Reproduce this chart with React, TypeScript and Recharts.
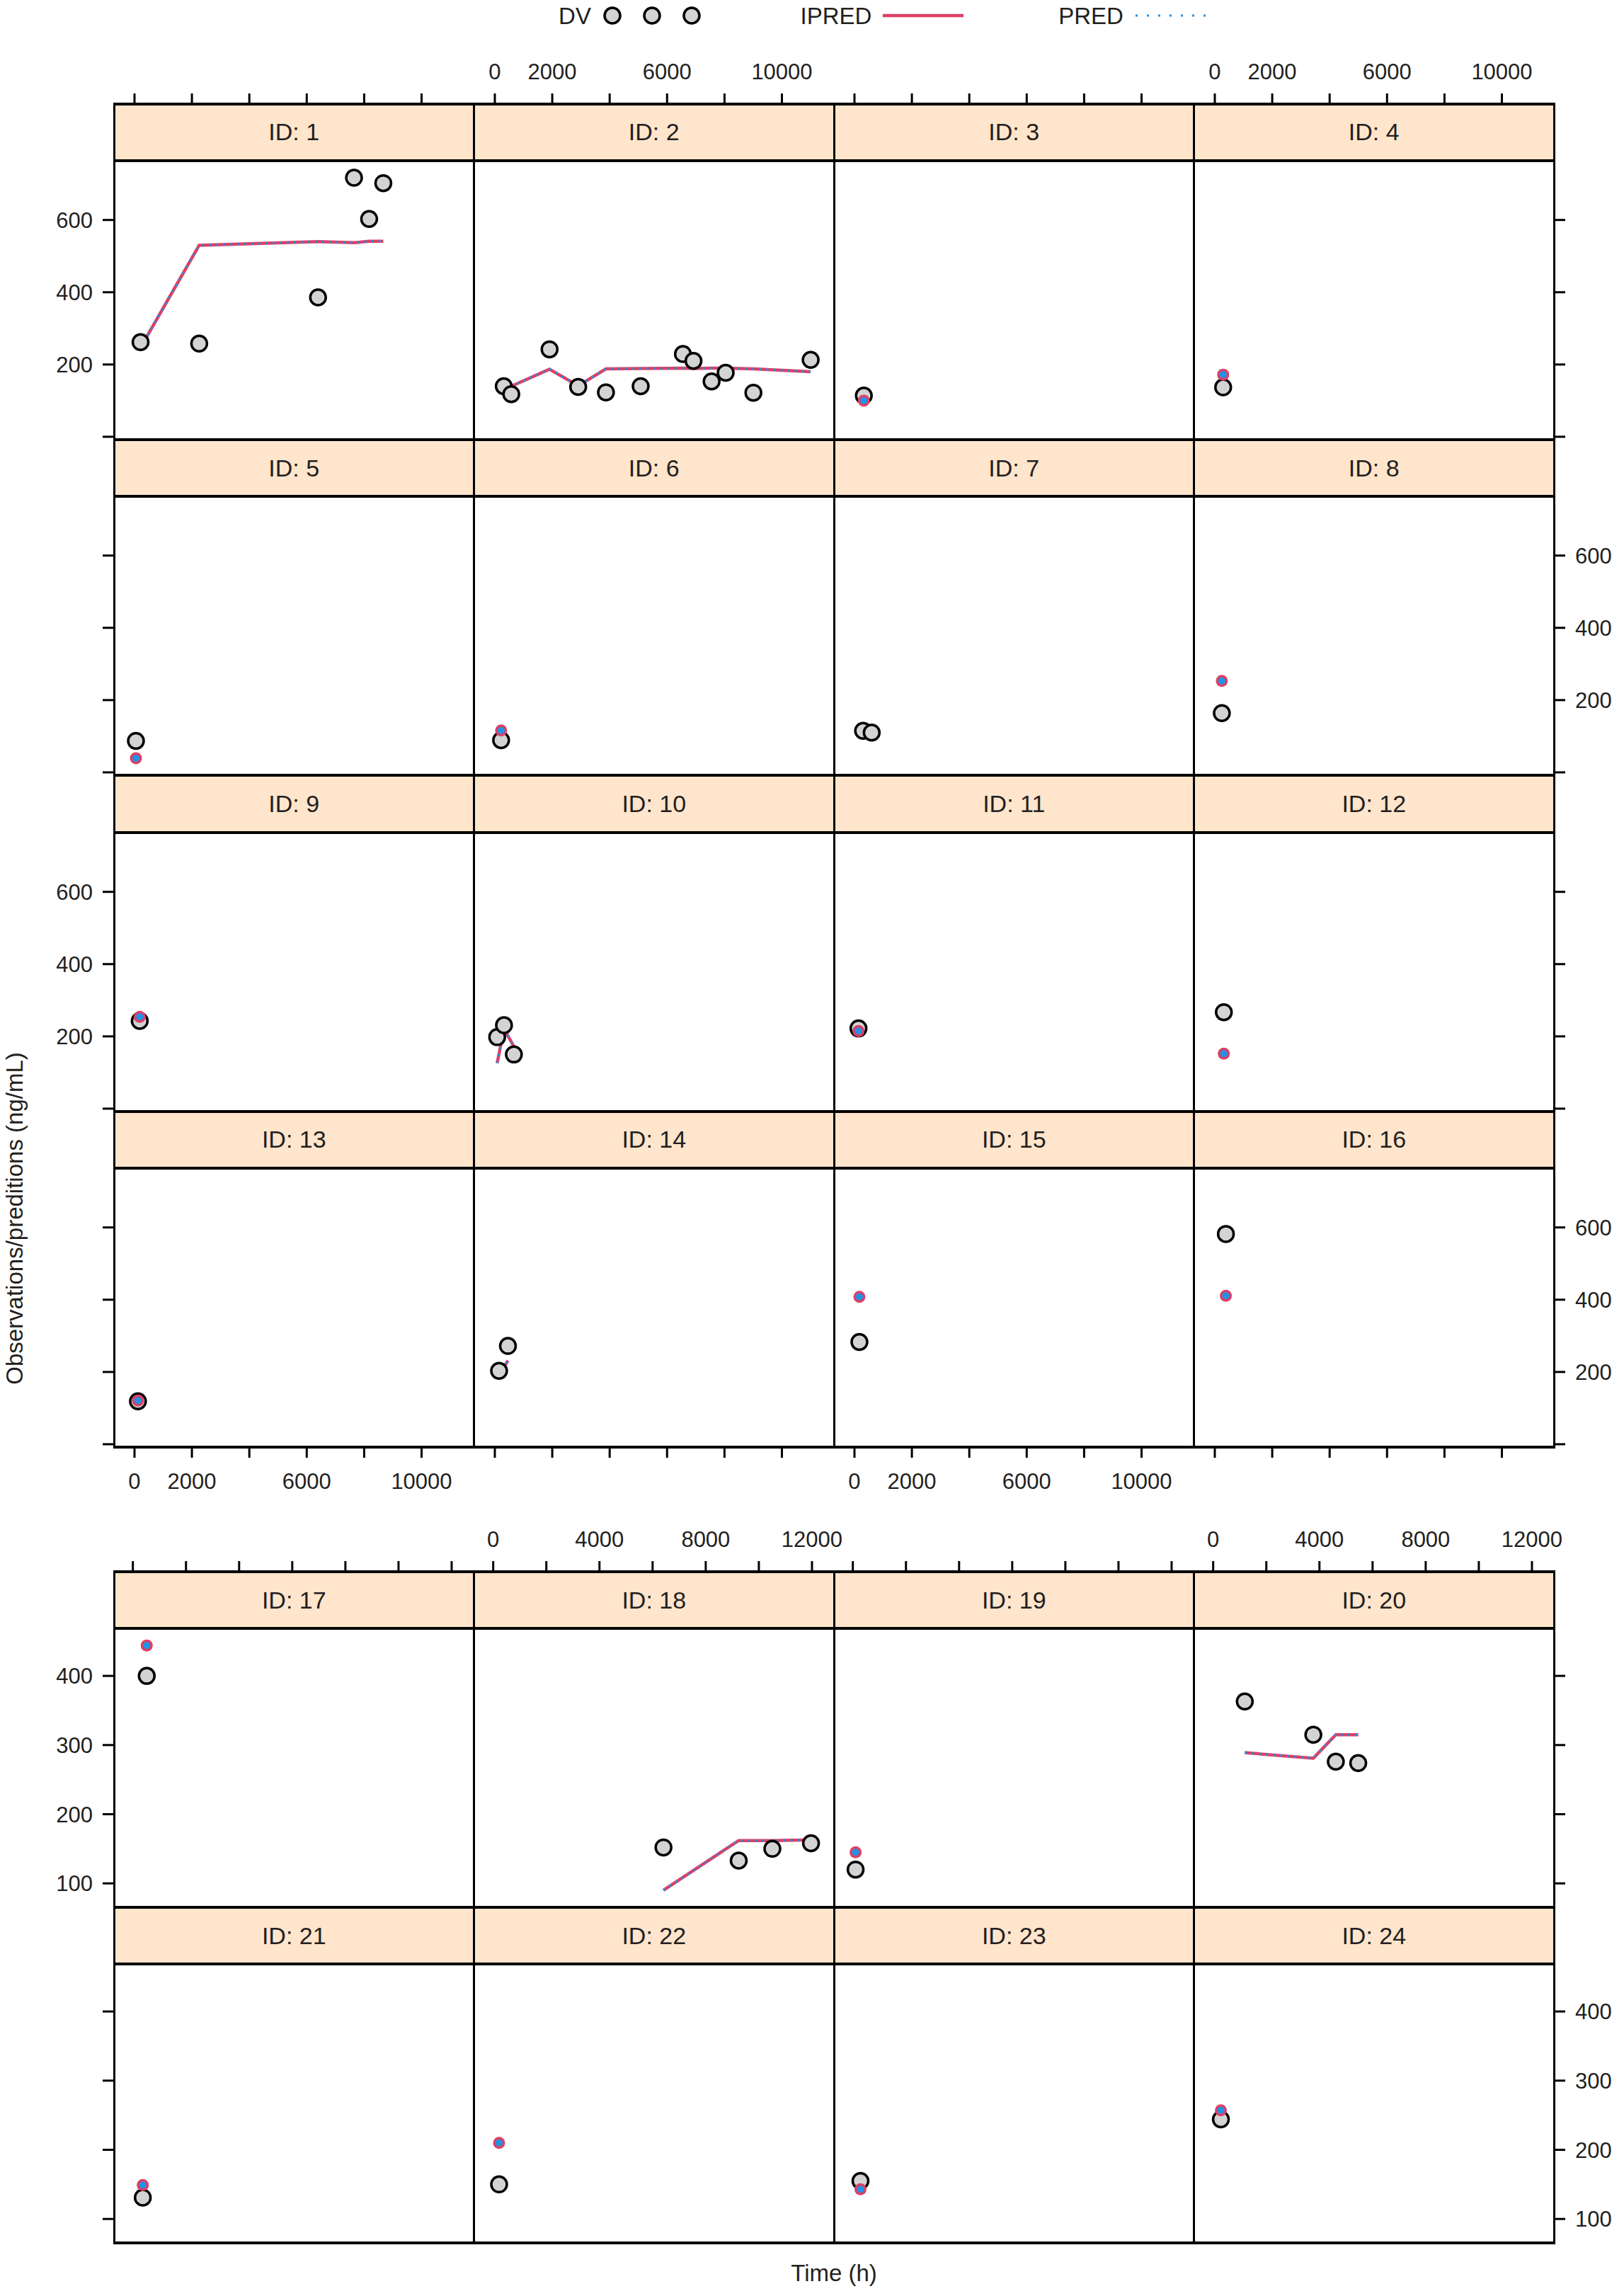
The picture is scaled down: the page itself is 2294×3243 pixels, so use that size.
import { ComposedChart, Line, Scatter, XAxis, YAxis } from 'recharts'

// one entry per subject, predictions taken at the observation times
const SUBJECT_IDS = [1, 2, 3, 4, 5, 6, 7, 8, 9, 10, 11, 12, 13, 14, 15, 16, 17, 18, 19, 20, 21, 22, 23, 24]

const TIME_H: number[][] = [
  [211, 2253, 6393, 7646, 8173, 8667],
  [311, 572, 1906, 2903, 3870, 5080, 6552, 6920, 7551, 8041, 9006, 11002],
  [326],
  [290],
  [50],
  [218],
  [300, 600],
  [245],
  [182],
  [81, 319, 663],
  [140],
  [314],
  [120],
  [147, 456],
  [172],
  [385],
  [522],
  [6409, 9242, 10508, 11963],
  [104],
  [1190, 3770, 4617, 5460],
  [373],
  [221],
  [288],
  [290],
]

const DV_OBS: number[][] = [
  [262, 258, 386, 717, 603, 702],
  [140, 118, 242, 138, 123, 140, 229, 210, 153, 177, 122, 213],
  [114],
  [137],
  [87],
  [89],
  [115, 110],
  [164],
  [243],
  [198, 231, 150],
  [222],
  [267],
  [119],
  [203, 272],
  [283],
  [582],
  [400],
  [152, 133, 150, 158],
  [120],
  [363, 315, 276, 274],
  [131],
  [150],
  [155],
  [244],
]

const IPRED_VAL: number[][] = [
  [247, 530, 540, 537, 541, 541],
  [131, 140, 187, 141, 188, 189, 190, 189, 190, 190, 188, 180],
  [100],
  [172],
  [39],
  [116],
  [114, 110],
  [253],
  [254],
  [126, 221, 172],
  [215],
  [152],
  [121],
  [190, 232],
  [408],
  [411],
  [444],
  [90, 162, 162, 163],
  [145],
  [289, 281, 315, 315],
  [149],
  [210],
  [143],
  [257],
]

const PRED_VAL: number[][] = [
  [247, 530, 540, 537, 541, 541],
  [131, 140, 187, 141, 188, 189, 190, 189, 190, 190, 188, 180],
  [100],
  [172],
  [39],
  [116],
  [114, 110],
  [253],
  [254],
  [126, 221, 172],
  [215],
  [152],
  [121],
  [190, 232],
  [408],
  [411],
  [444],
  [90, 162, 162, 163],
  [145],
  [289, 281, 315, 315],
  [149],
  [210],
  [143],
  [257],
]

const PAGE1_X_TICKS = [0, 2000, 4000, 6000, 8000, 10000]
const PAGE1_X_LABELS = [0, 2000, 6000, 10000]
const PAGE2_X_TICKS = [0, 2000, 4000, 6000, 8000, 10000, 12000]
const PAGE2_X_LABELS = [0, 4000, 8000, 12000]
const PAGE1_Y_TICKS = [0, 200, 400, 600]
const PAGE1_Y_LABELS = [200, 400, 600]
const PAGE2_Y_TICKS = [100, 200, 300, 400]
const PAGE2_Y_LABELS = [100, 200, 300, 400]

const FONT = '"Liberation Sans", Arial, sans-serif'
const INK = '#231f20'
const RED = '#de3f64'
const BLUE = '#1f93e6'
const STRIP_BG = '#ffe5cc'

const LEFT = 161
const COL_W = 508.5
const STRIP_H = 80.3
const PANEL_H = 394
const NCOL = 4
const PAD = 60

interface Page {
  first: number
  count: number
  rows: number
  top: number
  pitch: number
  xDomain: [number, number]
  yDomain: [number, number]
  xTicks: number[]
  xLabels: number[]
  yTicks: number[]
  yLabels: number[]
  bottomAxis: boolean
}

const PAGES: Page[] = [
  {
    first: 0, count: 16, rows: 4, top: 146.7, pitch: 474.3,
    xDomain: [-715, 11825], yDomain: [-8, 764],
    xTicks: PAGE1_X_TICKS, xLabels: PAGE1_X_LABELS,
    yTicks: PAGE1_Y_TICKS, yLabels: PAGE1_Y_LABELS, bottomAxis: true,
  },
  {
    first: 16, count: 8, rows: 2, top: 2220, pitch: 474,
    xDomain: [-711, 12840], yDomain: [65.4, 468.7],
    xTicks: PAGE2_X_TICKS, xLabels: PAGE2_X_LABELS,
    yTicks: PAGE2_Y_TICKS, yLabels: PAGE2_Y_LABELS, bottomAxis: false,
  },
]

const ZERO = { top: 0, right: 0, bottom: 0, left: 0 }
const tickStyle = { fill: INK, fontSize: 31, fontFamily: FONT }
const tickLine = { stroke: '#000', strokeWidth: 3 }

function DvMarker(props: any) {
  const { cx, cy } = props
  if (cx == null || cy == null) return null
  return <circle cx={cx} cy={cy} r={11} fill="#d3d3d3" stroke="#000" strokeWidth={3.5} />
}

function Panel({ idx, page, left, top }: { idx: number; page: Page; left: number; top: number }) {
  const rows = TIME_H[idx].map((t, i) => ({
    t,
    dv: DV_OBS[idx][i],
    ipred: IPRED_VAL[idx][i],
    pred: PRED_VAL[idx][i],
  }))
  const single = rows.length === 1
  return (
    <div style={{ position: 'absolute', left, top, width: COL_W, height: PANEL_H }}>
      <ComposedChart width={COL_W} height={PANEL_H} data={rows} margin={ZERO}>
        <XAxis type="number" dataKey="t" domain={page.xDomain} allowDataOverflow hide />
        <YAxis type="number" domain={page.yDomain} allowDataOverflow hide />
        <Scatter dataKey="dv" shape={DvMarker} isAnimationActive={false} />
        <Line
          type="linear"
          dataKey="ipred"
          stroke={RED}
          strokeWidth={4.5}
          dot={single ? { r: 8.5, fill: RED, stroke: 'none' } : false}
          activeDot={false}
          isAnimationActive={false}
        />
        <Line
          type="linear"
          dataKey="pred"
          stroke={BLUE}
          strokeWidth={3}
          strokeDasharray="3 7"
          dot={single ? { r: 5, fill: BLUE, stroke: 'none' } : false}
          activeDot={false}
          isAnimationActive={false}
        />
      </ComposedChart>
    </div>
  )
}

function TimeAxis({ page, left, axisY, orientation, labelled }: { page: Page; left: number; axisY: number; orientation: 'top' | 'bottom'; labelled: boolean }) {
  const H = 90
  const AXIS_H = 80
  const W = COL_W + 2 * PAD
  const top = orientation === 'top' ? axisY - AXIS_H : axisY - (H - AXIS_H)
  return (
    <div style={{ position: 'absolute', left: left - PAD, top, width: W, height: H }}>
      <ComposedChart width={W} height={H} data={[]} margin={{ top: 0, bottom: 0, left: PAD, right: PAD }}>
        <XAxis
          type="number"
          dataKey="t"
          orientation={orientation}
          height={AXIS_H}
          domain={page.xDomain}
          allowDataOverflow
          ticks={page.xTicks}
          interval={0}
          tickSize={15}
          tickMargin={orientation === 'top' ? 20 : 22}
          axisLine={false}
          tickLine={tickLine}
          tick={tickStyle}
          tickFormatter={(v: number) => (labelled && page.xLabels.includes(v) ? String(v) : '')}
        />
        <YAxis type="number" domain={[0, 1]} hide />
      </ComposedChart>
    </div>
  )
}

function ConcAxis({ page, axisX, top, orientation, labelled }: { page: Page; axisX: number; top: number; orientation: 'left' | 'right'; labelled: boolean }) {
  const W = 160
  const AXIS_W = 150
  const left = orientation === 'left' ? axisX - AXIS_W : axisX - (W - AXIS_W)
  return (
    <div style={{ position: 'absolute', left, top, width: W, height: PANEL_H }}>
      <ComposedChart width={W} height={PANEL_H} data={[]} margin={ZERO}>
        <XAxis type="number" domain={[0, 1]} hide />
        <YAxis
          type="number"
          orientation={orientation}
          width={AXIS_W}
          domain={page.yDomain}
          allowDataOverflow
          ticks={page.yTicks}
          interval={0}
          tickSize={16}
          tickMargin={14}
          axisLine={false}
          tickLine={tickLine}
          tick={tickStyle}
          tickFormatter={(v: number) => (labelled && page.yLabels.includes(v) ? String(v) : '')}
        />
      </ComposedChart>
    </div>
  )
}

function PageBlock({ page }: { page: Page }) {
  const parts: any[] = []
  const right = LEFT + NCOL * COL_W
  const bottom = page.top + page.rows * page.pitch

  for (let k = 0; k < page.count; k++) {
    const idx = page.first + k
    const r = Math.floor(k / NCOL)
    const c = k % NCOL
    const x = LEFT + c * COL_W
    const stripTop = page.top + r * page.pitch
    parts.push(
      <div
        key={`s${idx}`}
        style={{
          position: 'absolute', left: x, top: stripTop, width: COL_W, height: STRIP_H,
          background: STRIP_BG, display: 'flex', alignItems: 'center', justifyContent: 'center',
          fontFamily: FONT, fontSize: 34, color: INK,
        }}
      >
        {`ID: ${SUBJECT_IDS[idx]}`}
      </div>,
    )
    parts.push(<Panel key={`p${idx}`} idx={idx} page={page} left={x} top={stripTop + STRIP_H} />)
  }

  for (let c = 0; c < NCOL; c++) {
    const x = LEFT + c * COL_W
    parts.push(<TimeAxis key={`ta${c}`} page={page} left={x} axisY={page.top} orientation="top" labelled={c % 2 === 1} />)
    if (page.bottomAxis) {
      parts.push(<TimeAxis key={`ba${c}`} page={page} left={x} axisY={bottom} orientation="bottom" labelled={c % 2 === 0} />)
    }
  }

  for (let r = 0; r < page.rows; r++) {
    const pTop = page.top + r * page.pitch + STRIP_H
    parts.push(<ConcAxis key={`la${r}`} page={page} axisX={LEFT} top={pTop} orientation="left" labelled={r % 2 === 0} />)
    parts.push(<ConcAxis key={`ra${r}`} page={page} axisX={right} top={pTop} orientation="right" labelled={r % 2 === 1} />)
  }

  // frame lines
  const hLines: number[] = []
  for (let r = 0; r < page.rows; r++) {
    hLines.push(page.top + r * page.pitch, page.top + r * page.pitch + STRIP_H)
  }
  hLines.push(bottom)
  hLines.forEach((y, i) =>
    parts.push(
      <div key={`h${i}`} style={{ position: 'absolute', left: LEFT - 1.5, top: y - 2, width: right - LEFT + 3, height: 4, background: '#000' }} />,
    ),
  )
  for (let c = 0; c <= NCOL; c++) {
    const x = LEFT + c * COL_W
    parts.push(
      <div key={`v${c}`} style={{ position: 'absolute', left: x - 1.5, top: page.top, width: 3, height: bottom - page.top, background: '#000' }} />,
    )
  }
  return <>{parts}</>
}

function LegendRow() {
  const y = 22
  const txt = { fontFamily: FONT, fontSize: 33, fill: INK }
  return (
    <svg width={2294} height={50} style={{ position: 'absolute', left: 0, top: 0 }}>
      <text x={812} y={y} textAnchor="middle" dominantBaseline="central" {...txt}>DV</text>
      {[865, 921, 977].map((cx) => (
        <circle key={cx} cx={cx} cy={y} r={11} fill="#d3d3d3" stroke="#000" strokeWidth={3.5} />
      ))}
      <text x={1181} y={y} textAnchor="middle" dominantBaseline="central" {...txt}>IPRED</text>
      <line x1={1247} x2={1361} y1={y} y2={y} stroke={RED} strokeWidth={4.5} />
      <text x={1541} y={y} textAnchor="middle" dominantBaseline="central" {...txt}>PRED</text>
      <line x1={1604} x2={1707} y1={y} y2={y} stroke={BLUE} strokeWidth={3} strokeDasharray="3 13" />
    </svg>
  )
}

export default function App() {
  return (
    <div style={{ position: 'absolute', left: 0, top: 0, width: 2294, height: 3243, background: '#fff', overflow: 'hidden' }}>
      <LegendRow />
      {PAGES.map((p, i) => (
        <PageBlock key={i} page={p} />
      ))}
      <div
        style={{
          position: 'absolute', left: 21, top: 1721, transform: 'translate(-50%, -50%) rotate(-90deg)',
          whiteSpace: 'nowrap', fontFamily: FONT, fontSize: 33, color: INK,
        }}
      >
        Observations/preditions (ng/mL)
      </div>
      <div
        style={{
          position: 'absolute', left: 1178, top: 3211, transform: 'translate(-50%, -50%)',
          whiteSpace: 'nowrap', fontFamily: FONT, fontSize: 33, color: INK,
        }}
      >
        Time (h)
      </div>
    </div>
  )
}
